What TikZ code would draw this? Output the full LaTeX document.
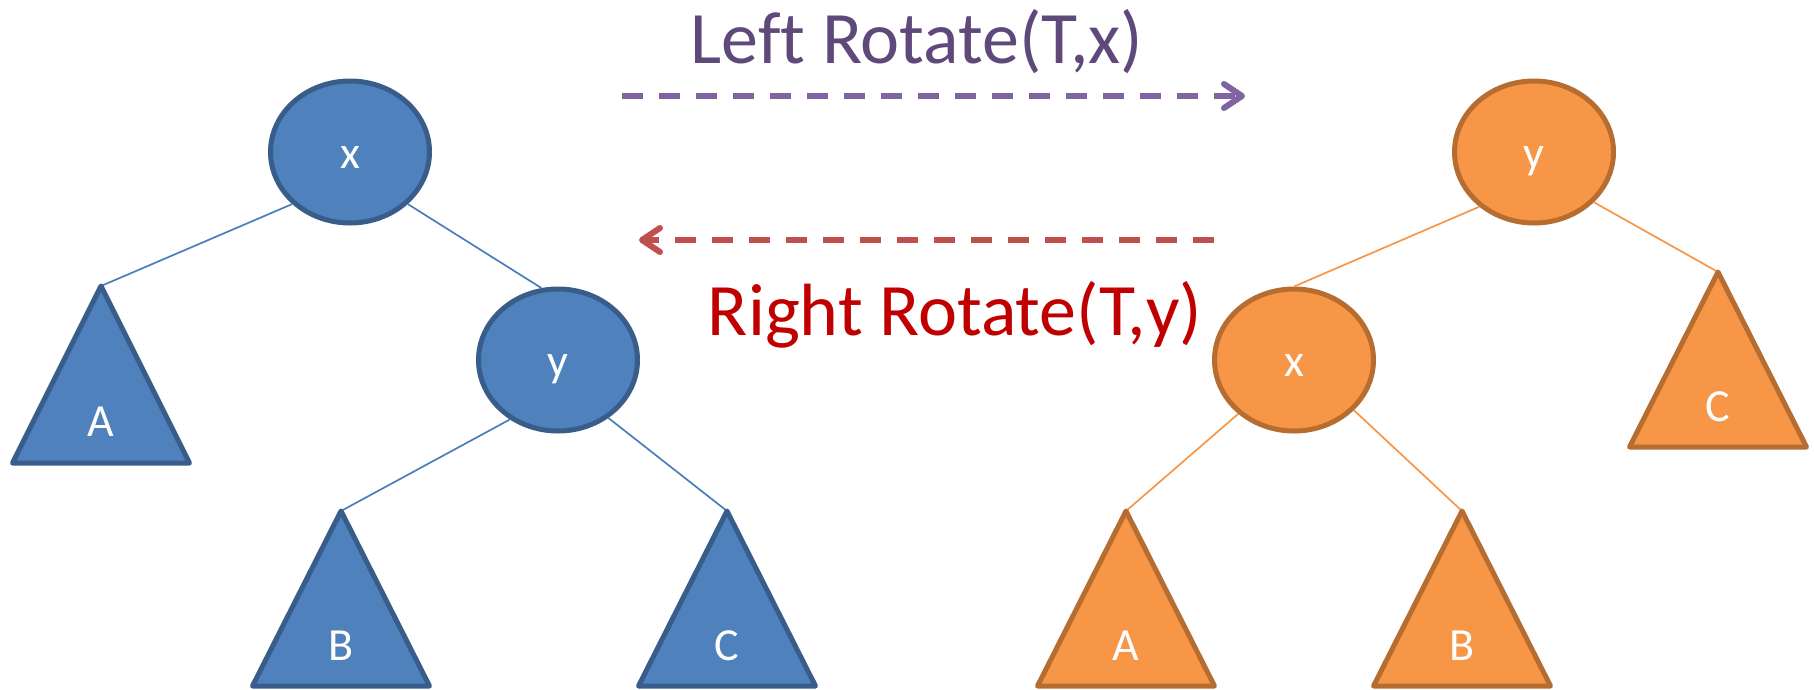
\documentclass[tikz,border=0pt]{standalone}
\usepackage{fontspec}
\setmainfont{Carlito}[Ligatures=NoCommon]
\usetikzlibrary{arrows.meta,shapes.geometric}
\definecolor{bfill}{HTML}{4F81BD}
\definecolor{bline}{HTML}{385D8A}
\definecolor{bconn}{HTML}{4A7EBB}
\definecolor{ofill}{HTML}{F79646}
\definecolor{oline}{HTML}{B66D31}
\definecolor{pline}{HTML}{8064A2}
\definecolor{ptext}{HTML}{5F497A}
\definecolor{rline}{HTML}{C0504D}
\definecolor{rtext}{HTML}{C00000}
\begin{document}
\begin{tikzpicture}[x=1pt,y=-1pt,
  treenode/.style={ellipse, minimum width=159pt, minimum height=142pt, line width=5pt,
    text=white, font=\fontsize{46}{50}\selectfont, text height=40pt, text depth=8pt, inner sep=0pt},
  bluenode/.style={treenode, draw=bline, fill=bfill},
  orangenode/.style={treenode, draw=oline, fill=ofill},
  tri/.style={line width=5pt, line join=round},
  bluetri/.style={tri, draw=bline, fill=bfill},
  orangetri/.style={tri, draw=oline, fill=ofill},
  trilabel/.style={anchor=base, text=white, font=\fontsize{46}{50}\selectfont, inner sep=0pt},
  bluelink/.style={draw=bconn, line width=1.7pt},
  orangelink/.style={draw=ofill, line width=1.7pt},
  title/.style={anchor=base, font=\fontsize{74}{80}\selectfont, inner sep=0pt},
  rotarrow/.style={line width=6pt, dash pattern=on 21pt off 16pt,
    -{Straight Barb[length=18pt,width=24pt,round]}},
]
\useasboundingbox (0,0) rectangle (1814,689);

% ---------- left tree ----------
\node[bluenode] (lx) at (350,152) {x};
\node[bluenode] (ly) at (558,360) {y};
\coordinate (lA) at (101,286);
\coordinate (lB) at (341,511);
\coordinate (lC) at (727,511);

\draw[bluelink] (lx.222) -- (lA);
\draw[bluelink] (lx.318) -- (ly.103);
\draw[bluelink] (ly.231) -- (lB);
\draw[bluelink] (ly.311) -- (lC);

\draw[bluetri] (lA) -- ++(-88.5,177) -- ++(177,0) -- cycle;
\draw[bluetri] (lB) -- ++(-88.5,175) -- ++(177,0) -- cycle;
\draw[bluetri] (lC) -- ++(-88.5,175) -- ++(177,0) -- cycle;
\node[trilabel] (lAl) at ([yshift=-150pt]lA) {A};
\node[trilabel] (lBl) at ([yshift=-149pt]lB) {B};
\node[trilabel] (lCl) at ([yshift=-149pt]lC) {C};

% ---------- right tree ----------
\node[orangenode] (ry) at (1534,152) {y};
\node[orangenode] (rx) at (1294,360) {x};
\coordinate (rC) at (1718,272);
\coordinate (rA) at (1126,511);
\coordinate (rB) at (1462,511);

\draw[orangelink] (ry.225) -- (rx.north);
\draw[orangelink] (ry.320) -- (rC);
\draw[orangelink] (rx.224) -- (rA);
\draw[orangelink] (rx.320) -- (rB);

\draw[orangetri] (rC) -- ++(-88.5,175) -- ++(177,0) -- cycle;
\draw[orangetri] (rA) -- ++(-88.5,175) -- ++(177,0) -- cycle;
\draw[orangetri] (rB) -- ++(-88.5,175) -- ++(177,0) -- cycle;
\node[trilabel] (rCl) at ([yshift=-149pt]rC) {C};
\node[trilabel] (rAl) at ([yshift=-149pt]rA) {A};
\node[trilabel] (rBl) at ([yshift=-149pt]rB) {B};

% ---------- rotations ----------
\node[title, text=ptext] (lt) at (917,63) {Left Rotate(T,x)};
\node[title, text=rtext] (rt) at (955,335) {Right Rotate(T,y)};
\coordinate (ls) at (622,96);
\coordinate (le) at (1245,96);
\coordinate (rs) at (1214,240);
\coordinate (re) at (639,240);
\draw[rotarrow, draw=pline] (ls) -- (le);
\draw[rotarrow, draw=rline] (rs) -- (re);
\end{tikzpicture}
\end{document}
